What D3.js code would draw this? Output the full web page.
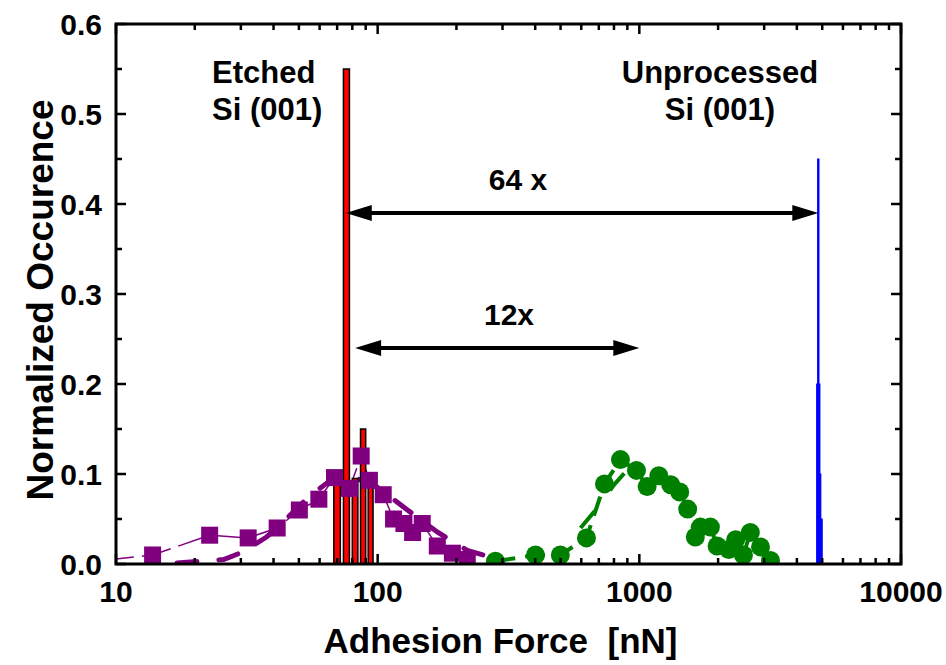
<!DOCTYPE html>
<html>
<head>
<meta charset="utf-8">
<script src="https://cdn.jsdelivr.net/npm/d3@7"></script>
<style>
  body { margin: 0; background: #fff; }
  text { font-family: "Liberation Sans", Arial, sans-serif; font-weight: bold; fill: #000; white-space: pre; }
</style>
</head>
<body>
<div id="chart"></div>
<script>
// etched Si (001) histogram, bins centred at force [nN]
const etchedForce = [70, 76, 82, 88, 94]
const etchedOcc = [0.10, 0.55, 0.095, 0.15, 0.10]
const etchedHalfBin = 2

// unprocessed Si (001) histogram, bin edges [nN]
const rawLo = [4760, 4800, 4880, 4930]
const rawHi = [4900, 4860, 4940, 5000]
const rawOcc = [0.20, 0.45, 0.10, 0.05]

// purple squares
const sqForce = [9, 13.8, 22.8, 32.0, 41.3, 50.2, 59.6, 68.4, 78.0, 86.5, 93, 105, 115, 126, 136, 148, 169, 193, 220]
const sqOcc = [0.004, 0.010, 0.032, 0.029, 0.040, 0.060, 0.072, 0.096, 0.084, 0.120, 0.093, 0.077, 0.050, 0.045, 0.035, 0.045, 0.020, 0.012, 0.005]
const sqFitForce = [17.1, 21.0, 25.8, 30.3, 37.6, 41.3, 54.6, 66.1, 74.2, 83.4, 100, 130, 170, 220, 300]
const sqFitOcc = [0.001, 0.003, 0.005, 0.013, 0.030, 0.040, 0.075, 0.093, 0.095, 0.095, 0.085, 0.060, 0.035, 0.015, 0.004]

// green circles
const cirForce = [282, 401, 499, 628, 736, 847, 975, 1071, 1187, 1318, 1427, 1530, 1637, 1712, 1869, 1983, 2198, 2335, 2500, 2656, 2904, 3170]
const cirOcc = [0.003, 0.010, 0.010, 0.029, 0.089, 0.116, 0.104, 0.086, 0.098, 0.088, 0.080, 0.061, 0.030, 0.041, 0.041, 0.020, 0.016, 0.027, 0.010, 0.035, 0.019, 0.004]
const cirFitForce = [596, 690, 800, 890]
const cirFitOcc = [0.040, 0.062, 0.088, 0.103]

// ratio arrows: [from, to] force at a given occurence
const arrows = [
  { from: 75.5, to: 4830, y: 0.39, label: '64 x' },
  { from: 82, to: 1000, y: 0.24, label: '12x' }
]

const xMajor = [10, 100, 1000, 10000]
const yMajor = [0, 0.1, 0.2, 0.3, 0.4, 0.5, 0.6]

const W = 946, H = 665
const margin = { top: 24, right: 45, bottom: 101, left: 116 }
const iw = W - margin.left - margin.right
const ih = H - margin.top - margin.bottom

const svg = d3.select('#chart').append('svg').attr('width', W).attr('height', H)
const g = svg.append('g').attr('transform', `translate(${margin.left},${margin.top})`)

const x = d3.scaleLog().domain([10, 10000]).range([0, iw])
const y = d3.scaleLinear().domain([0, 0.6]).range([ih, 0])

svg.append('defs').append('clipPath').attr('id', 'clip')
  .append('rect').attr('width', iw).attr('height', ih)

const plot = g.append('g').attr('clip-path', 'url(#clip)')

const pts = (xs, ys) => xs.map((v, i) => [v, ys[i]])
const line = d3.line().x(d => x(d[0])).y(d => y(d[1]))

// purple fit + connecting line
plot.append('path').attr('d', line(pts(sqFitForce, sqFitOcc)))
  .attr('fill', 'none').attr('stroke', '#800080').attr('stroke-width', 5)
  .attr('stroke-dasharray', '20,22').attr('stroke-linecap', 'round')
plot.append('path').attr('d', line(pts(sqForce, sqOcc)))
  .attr('fill', 'none').attr('stroke', '#800080').attr('stroke-width', 1.5)
  .attr('stroke-dasharray', '30,8')

// green fit + connecting line
plot.append('path').attr('d', line(pts(cirFitForce, cirFitOcc)))
  .attr('fill', 'none').attr('stroke', '#008000').attr('stroke-width', 4)
  .attr('stroke-dasharray', '22,26')
plot.append('path').attr('d', line(pts(cirForce, cirOcc)))
  .attr('fill', 'none').attr('stroke', '#008000').attr('stroke-width', 4)
  .attr('stroke-dasharray', '20,10')

// etched bars
plot.selectAll('rect.etched')
  .data(pts(etchedForce, etchedOcc))
  .join('rect')
  .attr('class', 'etched')
  .attr('x', d => x(d[0] - etchedHalfBin))
  .attr('width', d => x(d[0] + etchedHalfBin) - x(d[0] - etchedHalfBin))
  .attr('y', d => y(d[1]))
  .attr('height', d => y(0) - y(d[1]))
  .attr('fill', '#ff0000').attr('stroke', '#000').attr('stroke-width', 1.5)

// squares
plot.selectAll('rect.sq')
  .data(pts(sqForce, sqOcc))
  .join('rect')
  .attr('class', 'sq')
  .attr('x', d => x(d[0]) - 8.5).attr('y', d => y(d[1]) - 8.5)
  .attr('width', 17).attr('height', 17)
  .attr('fill', '#800080')

// circles
plot.selectAll('circle')
  .data(pts(cirForce, cirOcc))
  .join('circle')
  .attr('cx', d => x(d[0])).attr('cy', d => y(d[1]))
  .attr('r', 9.5)
  .attr('fill', '#008000')

// unprocessed bars
plot.selectAll('rect.raw')
  .data(rawOcc.map((v, i) => ({ lo: rawLo[i], hi: rawHi[i], v })))
  .join('rect')
  .attr('class', 'raw')
  .attr('x', d => x(d.lo)).attr('width', d => x(d.hi) - x(d.lo))
  .attr('y', d => y(d.v)).attr('height', d => y(0) - y(d.v))
  .attr('fill', '#0000ff').attr('stroke', '#0000ff').attr('stroke-width', 1)

// arrows
const head = (tipX, yy, dir) => {
  const L = 26, hw = 8
  return `M${tipX},${yy}L${tipX + dir * L},${yy - hw}L${tipX + dir * L},${yy + hw}Z`
}
arrows.forEach(a => {
  const x0 = x(a.from), x1 = x(a.to), yy = y(a.y)
  g.append('line').attr('x1', x0 + 10).attr('x2', x1 - 10).attr('y1', yy).attr('y2', yy)
    .attr('stroke', '#000').attr('stroke-width', 4)
  g.append('path').attr('d', head(x0, yy, 1)).attr('fill', '#000')
  g.append('path').attr('d', head(x1, yy, -1)).attr('fill', '#000')
})
g.append('text').attr('x', 402).attr('y', 166).attr('text-anchor', 'middle')
  .style('font-size', '30px').text(arrows[0].label)
g.append('text').attr('x', 393).attr('y', 301).attr('text-anchor', 'middle')
  .style('font-size', '30px').text(arrows[1].label)

// labels
const note = (tx, lines, anchor) => {
  const t = g.append('text').attr('text-anchor', anchor).style('font-size', '31px')
  lines.forEach((s, i) => t.append('tspan').attr('x', tx).attr('y', 59 + i * 37).text(s))
}
note(96, ['Etched', 'Si (001)'], 'start')
note(604, ['Unprocessed', 'Si (001)'], 'middle')

// ticks
const xAll = x.ticks()
const yMinor = d3.range(0, 0.6001, 0.05)
const tickG = g.append('g').attr('stroke', '#000').attr('stroke-width', 2.5)
xAll.forEach(v => {
  const len = xMajor.includes(v) ? 10 : 6
  tickG.append('line').attr('x1', x(v)).attr('x2', x(v)).attr('y1', ih).attr('y2', ih - len)
  tickG.append('line').attr('x1', x(v)).attr('x2', x(v)).attr('y1', 0).attr('y2', len)
})
yMinor.forEach(v => {
  const major = yMajor.some(m => Math.abs(m - v) < 1e-6)
  const len = major ? 10 : 6
  tickG.append('line').attr('x1', 0).attr('x2', len).attr('y1', y(v)).attr('y2', y(v))
  tickG.append('line').attr('x1', iw).attr('x2', iw - len).attr('y1', y(v)).attr('y2', y(v))
})

// frame
g.append('rect').attr('width', iw).attr('height', ih)
  .attr('fill', 'none').attr('stroke', '#000').attr('stroke-width', 3)

// tick labels
g.selectAll('text.xl').data(xMajor).join('text')
  .attr('class', 'xl').attr('x', d => x(d)).attr('y', ih + 38)
  .attr('text-anchor', 'middle').style('font-size', '30px').text(d => d)
g.selectAll('text.yl').data(yMajor).join('text')
  .attr('class', 'yl').attr('x', -14).attr('y', d => y(d) + 11)
  .attr('text-anchor', 'end').style('font-size', '30px').text(d => d3.format('.1f')(d))

// axis titles
svg.append('text').attr('x', margin.left + iw / 2 - 8).attr('y', 653)
  .attr('text-anchor', 'middle').style('font-size', '35px').text('Adhesion Force  [nN]')
svg.append('text').attr('transform', `translate(53,${margin.top + ih / 2 + 6}) rotate(-90)`)
  .attr('text-anchor', 'middle').style('font-size', '37px').text('Normalized Occurence')
</script>
</body>
</html>
